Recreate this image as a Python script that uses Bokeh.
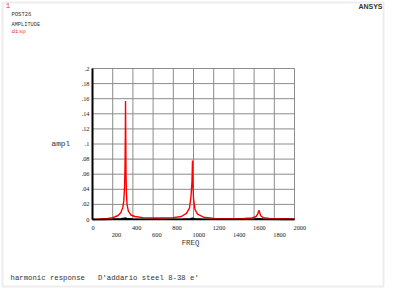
from bokeh.plotting import figure
from bokeh.models import Range1d, LabelSet, Label, ColumnDataSource, BoxAnnotation
from bokeh.embed import file_html
from bokeh.resources import INLINE

# ---- data ----
freq_disp = [0, 50, 100, 150, 200, 250, 280, 300, 310, 318, 322, 325, 327, 329, 332, 336, 342,
             355, 380, 420, 500, 600, 700, 800, 880, 930, 960, 975, 985, 990, 994, 1000, 1015,
             1040, 1100, 1200, 1300, 1400, 1500, 1580, 1620, 1635, 1645, 1650, 1656, 1665,
             1690, 1750, 1800, 1900, 2000]
amp_disp = [0.0, 0.0005, 0.001, 0.0015, 0.0025, 0.005, 0.009, 0.016, 0.025, 0.045, 0.07, 0.11,
            0.157, 0.12, 0.06, 0.035, 0.02, 0.011, 0.006, 0.004, 0.0025, 0.002, 0.002, 0.0025,
            0.004, 0.008, 0.015, 0.03, 0.05, 0.078, 0.05, 0.028, 0.013, 0.007, 0.003, 0.0015,
            0.001, 0.001, 0.0013, 0.002, 0.004, 0.007, 0.011, 0.012, 0.009, 0.005,
            0.0025, 0.0015, 0.0012, 0.001, 0.0008]

freq_ampl = [0, 100, 200, 280, 320, 327, 335, 400, 600, 900, 970, 990, 1010, 1100, 1400,
             1600, 1650, 1700, 2000]
amp_ampl = [0.0, 0.0002, 0.0005, 0.0008, 0.0015, 0.002, 0.0012, 0.0006, 0.0004, 0.0005, 0.0008,
            0.0015, 0.0008, 0.0004, 0.0003, 0.0005, 0.0009, 0.0004, 0.0002]

x_ticks_row1 = [0, 400, 800, 1200, 1600, 2000]
x_labels_row1 = ["0", "400", "800", "1200", "1600", "2000"]
x_ticks_row2 = [200, 600, 1000, 1400, 1800]
x_labels_row2 = ["200", "600", "1000", "1400", "1800"]
y_ticks = [0, 0.02, 0.04, 0.06, 0.08, 0.1, 0.12, 0.14, 0.16, 0.18, 0.2]
y_labels = ["0", ".02", ".04", ".06", ".08", ".1", ".12", ".14", ".16", ".18", ".2"]
x_min, x_max = 0, 2000
y_min, y_max = 0, 0.2

FONT = "Liberation Mono"
W, H = 400, 291
# plot box placement in pixels (left, right, top, bottom)
PL, PR, PT, PB = 92, 294, 68, 219
sx = (x_max - x_min) / (PR - PL)
sy = (y_max - y_min) / (PB - PT)

p = figure(width=W, height=H,
           x_range=Range1d(x_min - PL * sx, x_max + (W - PR) * sx),
           y_range=Range1d(y_min - (H - PB) * sy, y_max + PT * sy),
           output_backend="svg", toolbar_location=None,
           x_axis_location=None, y_axis_location=None,
           min_border=0)
p.grid.visible = False
p.outline_line_color = None
p.background_fill_color = "white"
p.border_fill_color = "white"

all_x = x_ticks_row1 + x_ticks_row2
gc = "#8c8c8c"
p.segment(x0=all_x, y0=[y_min] * len(all_x), x1=all_x, y1=[y_max] * len(all_x),
          line_color=gc, line_width=1)
p.segment(x0=[x_min] * len(y_ticks), y0=y_ticks, x1=[x_max] * len(y_ticks), y1=y_ticks,
          line_color=gc, line_width=1)

p.line(freq_ampl, amp_ampl, line_color="black", line_width=1.6)
p.line(freq_disp, amp_disp, line_color="#ff0000", line_width=1.4)

# axes lines
p.segment(x0=[x_min, x_min], y0=[y_min, y_min], x1=[x_min, x_max], y1=[y_max, y_min],
          line_color="black", line_width=[2, 1.5])

s1 = ColumnDataSource(dict(x=x_ticks_row1, y=[y_min] * len(x_ticks_row1), t=x_labels_row1))
s2 = ColumnDataSource(dict(x=x_ticks_row2, y=[y_min] * len(x_ticks_row2), t=x_labels_row2))
s3 = ColumnDataSource(dict(x=[x_min] * len(y_ticks), y=y_ticks, t=y_labels))
common = dict(text_font=FONT, text_font_size="6.3px", text_color="#222222",
              text_baseline="middle")
p.add_layout(LabelSet(x="x", y="y", text="t", source=s1, x_offset=-1, y_offset=-8,
                      text_align="left", **common))
p.add_layout(LabelSet(x="x", y="y", text="t", source=s2, x_offset=-1, y_offset=-15.5,
                      text_align="left", **common))
p.add_layout(LabelSet(x="x", y="y", text="t", source=s3, x_offset=-3, y_offset=0,
                      text_align="right", **common))

def lab(x, y, t, size="7px", color="#333333", align="left", style="normal", font=FONT):
    # x, y in pixels from the top-left corner of the picture
    p.add_layout(Label(x=x, y=H - y, x_units="screen", y_units="screen", text=t,
                       text_font=font, text_font_size=size, text_color=color,
                       text_align=align, text_baseline="middle", text_font_style=style))

lab(190, 242.5, "FREQ", size="7.3px", align="center")
lab(51, 143, "ampl", size="7.8px")
lab(5, 5, "1", size="8px", color="#ff3333")
lab(11, 13.5, "POST26", size="5.5px")
lab(11, 24, "AMPLITUDE", size="5.3px")
lab(11, 30.5, "disp", size="6px", color="#ff3333")
lab(382, 5.5, "ANSYS", size="7px", align="right", style="bold", font="Liberation Sans")
lab(10, 277, "harmonic response\u00a0\u00a0\u00a0D'addario steel 8-38 e'", size="7.3px")

p.add_layout(BoxAnnotation(left=2, right=383, bottom=H - 286, top=H - 2,
                           left_units="screen", right_units="screen",
                           bottom_units="screen", top_units="screen",
                           fill_alpha=0, line_color="#c4c4c4", line_width=2))

open("out.html", "w").write(file_html(p, INLINE))
